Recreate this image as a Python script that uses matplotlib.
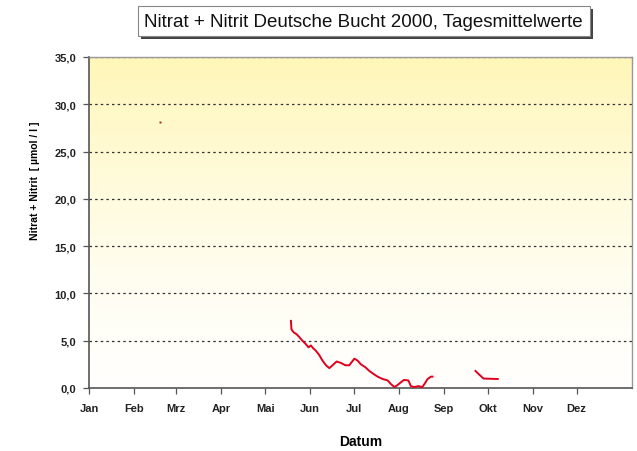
import numpy as np
import matplotlib.pyplot as plt
from matplotlib.patches import Rectangle

# day of year 2000 (0 = 1 Jan) and nitrate + nitrite in umol/l
single_day = [49]
single_value = [28.1]

summer_days = [138.7, 139.1, 140.5, 142.5, 144.4, 146.6, 148.9, 150.8, 152.4, 154.0,
               155.8, 158.1, 160.4, 162.8, 165.1, 167.3, 170.1, 173.1, 176.1, 178.8,
               182.3, 184.5, 186.8, 189.8, 192.6, 195.3, 198.3, 201.7, 205.2, 207.5,
               209.8, 211.9, 214.2, 216.4, 219.4, 221.1, 223.4, 226.3, 229.0, 230.8,
               232.6, 234.9, 236.0]
summer_values = [7.1, 6.2, 5.9, 5.7, 5.4, 5.0, 4.65, 4.3, 4.5, 4.2,
                 3.95, 3.5, 2.9, 2.4, 2.1, 2.4, 2.8, 2.65, 2.4, 2.4,
                 3.1, 2.9, 2.5, 2.2, 1.8, 1.5, 1.2, 0.95, 0.8, 0.4,
                 0.1, 0.3, 0.6, 0.85, 0.8, 0.2, 0.1, 0.2, 0.1, 0.5,
                 0.95, 1.2, 1.2]

autumn_days = [265.5, 268.2, 271.0, 280.8]
autumn_values = [1.8, 1.4, 1.0, 0.95]

month_starts = [0, 31, 60, 91, 121, 152, 182, 213, 244, 274, 305, 335]
month_labels = ["Jan", "Feb", "Mrz", "Apr", "Mai", "Jun", "Jul", "Aug", "Sep", "Okt", "Nov", "Dez"]
y_ticks = [0, 5, 10, 15, 20, 25, 30, 35]

plt.rcParams['font.family'] = ['Liberation Sans', 'DejaVu Sans']

fig = plt.figure(figsize=(6.37, 4.52), dpi=100)
fig.patch.set_facecolor('white')
ax = fig.add_axes([0.1397, 0.1394, 0.8524, 0.7323])

# yellow gradient background, fading to white at the bottom
grad = np.linspace(0, 1, 256).reshape(-1, 1)
top = np.array([1.0, 0.965, 0.72])
bottom = np.array([1.0, 1.0, 0.99])
img = bottom + (top - bottom) * grad[..., None] ** 1.5
img = img.reshape(256, 1, 3)
ax.imshow(img, extent=[0, 373, 0, 35], origin='lower', aspect='auto', zorder=0)

for y in y_ticks[1:]:
    ax.axhline(y, color='#333333', lw=0.9, ls=(0, (2, 2.5)), zorder=1)

ax.plot(summer_days, summer_values, color='#e0001e', lw=1.4, zorder=3)
ax.plot(autumn_days, autumn_values, color='#e0001e', lw=1.4, zorder=3)
ax.plot(single_day, single_value, 's', color='#a03030', ms=1.6, mec='none', zorder=3)

ax.set_xlim(0, 373)
ax.set_ylim(0, 35)
ax.set_xticks(month_starts)
ax.set_xticklabels(month_labels)
ax.set_yticks(y_ticks)
ax.set_yticklabels([f"{v:.1f}".replace('.', ',') for v in y_ticks])
ax.tick_params(axis='both', direction='out', length=4, width=0.9, color='#555555',
               labelsize=8, pad=5)
ax.tick_params(axis='x', pad=7)
for lab in ax.get_xticklabels() + ax.get_yticklabels():
    lab.set_fontweight('bold')
    lab.set_color('#222222')

for side in ['left', 'bottom']:
    ax.spines[side].set_color('#555555')
    ax.spines[side].set_linewidth(1.2)
for side in ['top', 'right']:
    ax.spines[side].set_color('#999999')
    ax.spines[side].set_linewidth(1.0)

ax.set_xlabel("Datum", fontsize=10, fontweight='bold', labelpad=15)
ax.set_ylabel("Nitrat + Nitrit  [ µmol / l ]", fontsize=7.5, fontweight='bold')
ax.yaxis.set_label_coords(-0.09, 0.63)

title = "Nitrat + Nitrit Deutsche Bucht 2000, Tagesmittelwerte"
t = fig.text(0.571, 0.951, title, fontsize=13.5, color='#111111', ha='center', va='center',
             zorder=5,
             bbox=dict(boxstyle='square,pad=0.35', fc='white', ec='#888888', lw=0.8))

# drop shadow behind the title box
fig.canvas.draw()
bb = t.get_bbox_patch().get_window_extent().transformed(fig.transFigure.inverted())
dx, dy = 3 / 637, 3 / 452
fig.patches.append(Rectangle((bb.x0 + dx, bb.y0 - dy), bb.width, bb.height,
                             transform=fig.transFigure, fc='#444444', ec='none', zorder=4))

fig.savefig('out.png', dpi=100)
